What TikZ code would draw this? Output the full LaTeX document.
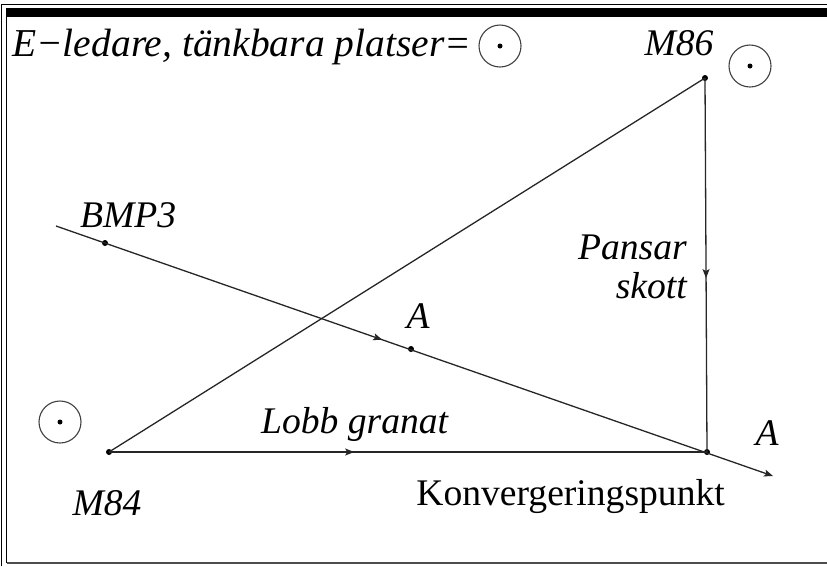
\documentclass[tikz,border=0pt]{standalone}
\usepackage{fontspec}
\setmainfont{Liberation Serif}
\usetikzlibrary{arrows.meta,decorations.markings}

\tikzset{
  lbl/.style={font=\fontsize{37.6}{42}\selectfont\itshape, inner sep=0pt},
  plain/.style={font=\fontsize{37.6}{42}\selectfont, inner sep=0pt},
  pt/.style={circle, fill=black, inner sep=0pt, minimum size=6pt},
  spot/.style={circle, draw=black!75, line width=1.1pt, minimum size=42pt, inner sep=0pt},
  track/.style={draw=black!85, line width=1.3pt},
  midarrow/.style={postaction={decorate},
    decoration={markings, mark=at position #1 with {\arrow{Stealth[length=9pt,width=7pt,inset=2pt]}}}},
}

\begin{document}
\begin{tikzpicture}[x=1pt, y=-1pt]
    \useasboundingbox (0,0) rectangle (827,566);
    % window frame
    \draw[line width=1pt] (1.5,566) -- (1.5,4.5) -- (827,4.5);
    \fill (6,8) rectangle (827,16.5);
    \draw[line width=1pt] (6.5,16) -- (6.5,563);
    \draw[black!70, line width=1.2pt] (6.5,563) -- (827,563);

    % possible places
    \node[lbl, font=\fontsize{39.5}{42}\selectfont\itshape, anchor=base west] (eledare) at (12,56) {E−ledare, tänkbara platser=};
    \node[spot] (spotA) at (500,46) {};
    \node[pt, minimum size=5pt] (spotAdot) at (spotA) {};
    \node[spot] (spotB) at (750,66) {};
    \node[pt, minimum size=5pt] (spotBdot) at (spotB) {};
    \node[spot] (spotC) at (60,422) {};
    \node[pt, minimum size=5pt] (spotCdot) at (spotC) {};

    % positions
    \node[pt] (m84) at (109,452) {};
    \node[pt] (m86) at (705,78) {};
    \node[pt] (konv) at (707,452) {};
    \node[pt] (bmp) at (105,243) {};
    \node[pt] (apt) at (411,349) {};
    \coordinate (bmpS) at (56,226);
    \coordinate (bmpE) at (773,476);

    % lines
    \draw[track] (m84.center) -- (m86.center);
    \draw[track, midarrow=0.41] (m84.center) -- (konv.center);
    \draw[track, midarrow=0.535] (m86.center) -- (konv.center);
    \draw[track, midarrow=0.455, -{Stealth[length=9pt,width=7pt,inset=2pt]}] (bmpS) -- (bmpE);

    % labels
    \node[lbl, anchor=base] (m86lbl) at (679,55) {M86};
    \node[lbl, anchor=base] (m84lbl) at (107,515) {M84};
    \node[lbl, anchor=base west] (bmplbl) at (80,227) {BMP3};
    \node[lbl, anchor=base] (alblA) at (418,328) {A};
    \node[lbl, anchor=base] (alblB) at (767,445) {A};
    \node[lbl, anchor=base east] (pansar) at (687,259) {Pansar};
    \node[lbl, anchor=base east] (skott) at (687,298) {skott};
    \node[lbl, anchor=base west] (lobb) at (261,433) {Lobb granat};
    \node[plain, anchor=base east] (konvlbl) at (725,505) {Konvergeringspunkt};
\end{tikzpicture}
\end{document}
